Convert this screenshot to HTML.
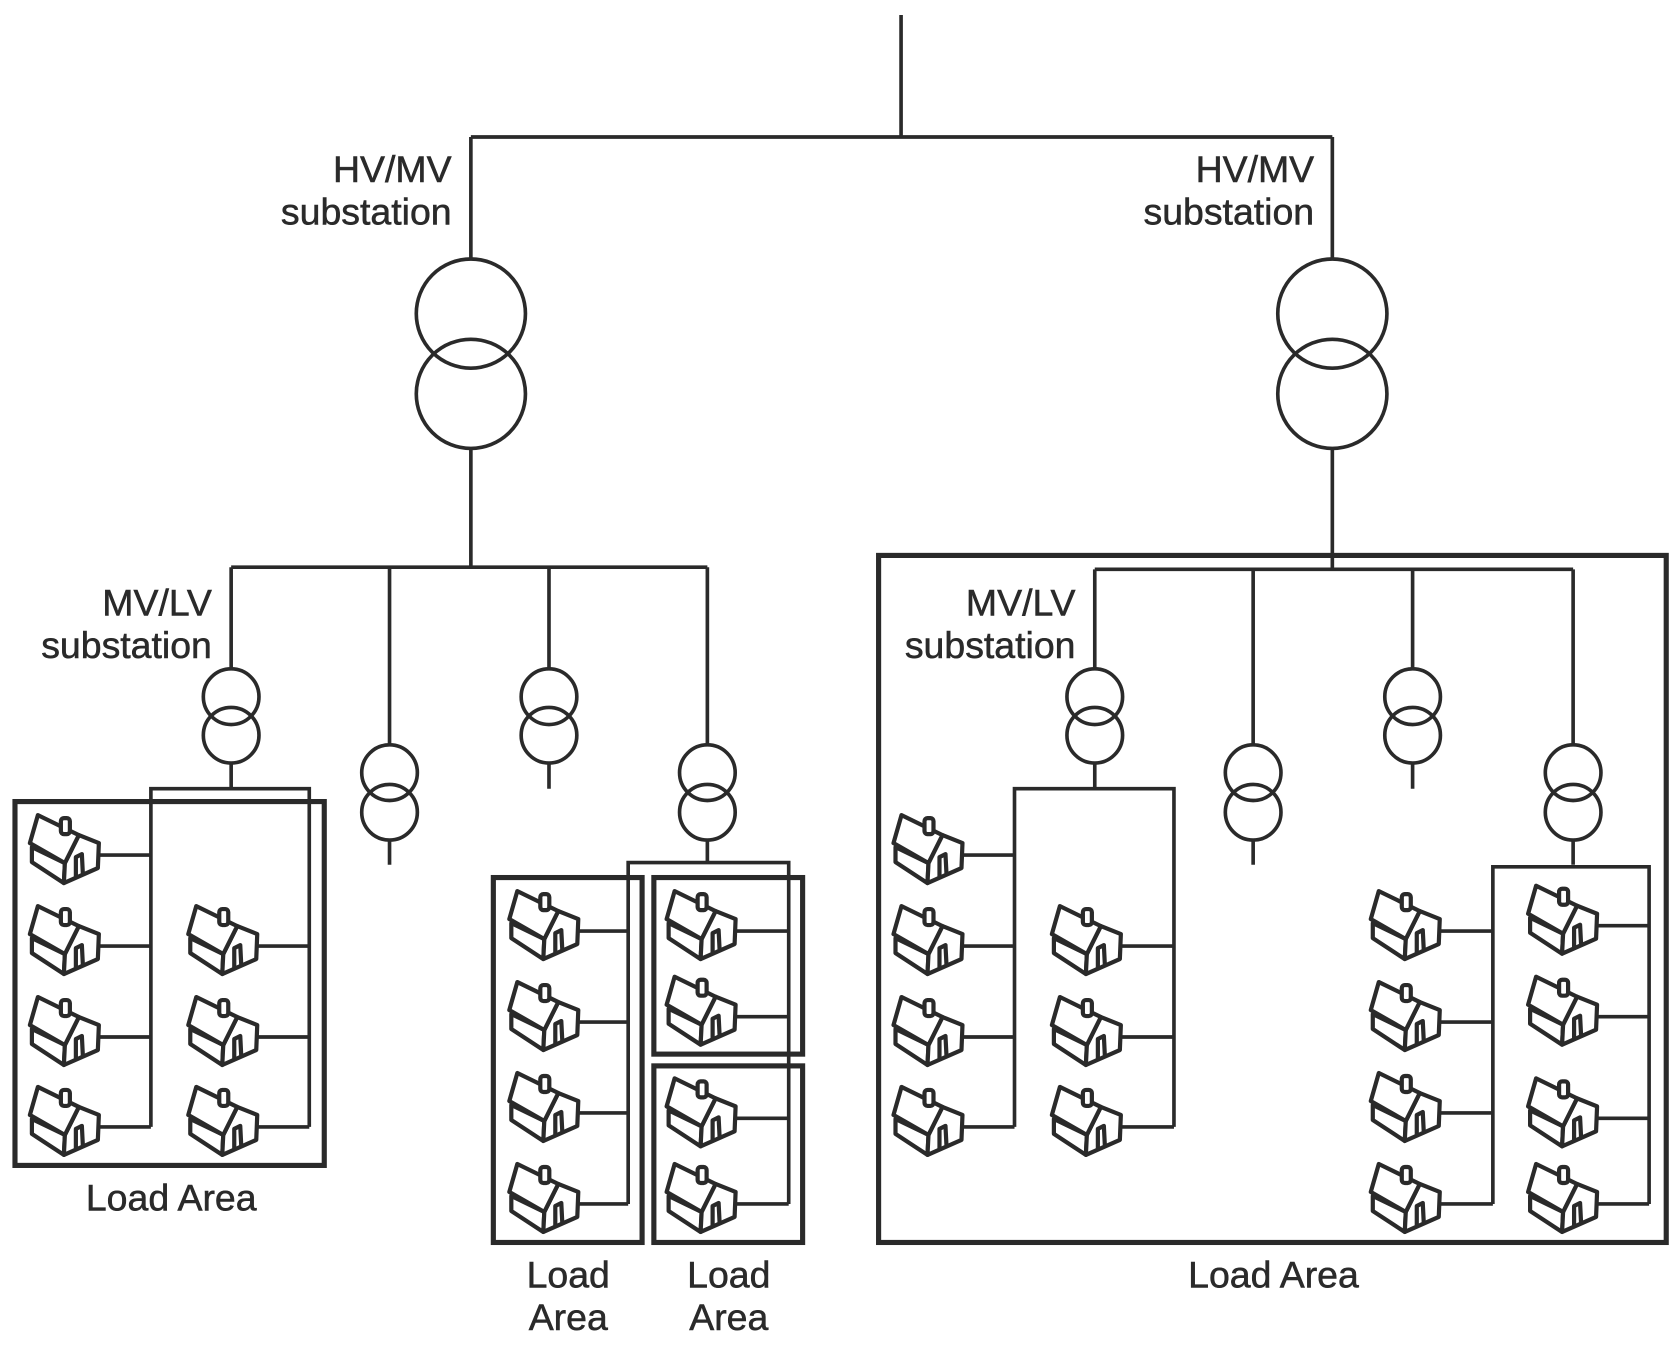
<!DOCTYPE html>
<html><head><meta charset="utf-8"><style>html,body{margin:0;padding:0;background:#fff}svg{display:block}</style></head>
<body>
<svg width="1678" height="1351" viewBox="0 0 1568 1262.4" xmlns="http://www.w3.org/2000/svg">
<defs>
<g id="h" transform="scale(0.934)" fill="#fff" stroke="#2a2a2a" stroke-width="4.2" stroke-linejoin="round">
<path d="M3,37 L36,53 L35,73 L3,52 Z"/>
<path d="M36,53 L50,25 L70,33 L69,58 L35,73 Z"/>
<path d="M1,33 L9,5 L50,25 L36,53 Z"/>
<rect x="32" y="8" width="9" height="16" rx="3"/>
<path d="M47,68 L47,47 L53,44 L54,64" fill="none"/>
</g>
</defs>
<g fill="none" stroke="#2a2a2a" stroke-width="3.4">
<path d="M842,14 V128 M440,128 H1245 M440,128 V242 M1245,128 V242"/>
<circle cx="440" cy="293" r="51"/><circle cx="440" cy="368" r="51"/>
<circle cx="1245" cy="293" r="51"/><circle cx="1245" cy="368" r="51"/>
<path d="M440,419 V530 M216,530 H661 M216,530 V625 M364,530 V696 M513,530 V625 M661,530 V696"/>
<path d="M1245,419 V532 M1023,532 H1470 M1023,532 V625 M1171,532 V696 M1320,532 V625 M1470,532 V696"/>
<circle cx="216" cy="651" r="26"/><circle cx="216" cy="687" r="26"/>
<circle cx="364" cy="722" r="26"/><circle cx="364" cy="759" r="26"/>
<circle cx="513" cy="651" r="26"/><circle cx="513" cy="687" r="26"/>
<circle cx="661" cy="722" r="26"/><circle cx="661" cy="759" r="26"/>
<circle cx="1023" cy="651" r="26"/><circle cx="1023" cy="687" r="26"/>
<circle cx="1171" cy="722" r="26"/><circle cx="1171" cy="759" r="26"/>
<circle cx="1320" cy="651" r="26"/><circle cx="1320" cy="687" r="26"/>
<circle cx="1470" cy="722" r="26"/><circle cx="1470" cy="759" r="26"/>
<path d="M216,713 V737 M364,785 V808 M513,713 V737 M661,785 V806 M1023,713 V737 M1171,785 V808 M1320,713 V737 M1470,785 V808"/>
<path d="M141,1053 V737 H289 V1053"/>
<path d="M92,799 H141 M92,884 H141 M92,969 H141 M92,1053 H141 M240,884 H289 M240,969 H289 M240,1053 H289"/>
<path d="M587,1125 V806 H737 V1125"/>
<path d="M540,870 H587 M540,955 H587 M540,1040 H587 M540,1125 H587 M687,870 H737 M687,950 H737 M687,1045 H737 M687,1125 H737"/>
<path d="M948,1053 V737 H1097 V1053"/>
<path d="M899,799 H948 M899,884 H948 M899,969 H948 M899,1053 H948 M1047,884 H1097 M1047,969 H1097 M1047,1053 H1097"/>
<path d="M1395,1125 V810 H1541 V1125"/>
<path d="M1345,870 H1395 M1345,955 H1395 M1345,1040 H1395 M1345,1125 H1395 M1492,865 H1541 M1492,950 H1541 M1492,1045 H1541 M1492,1125 H1541"/>
</g>
<g fill="none" stroke="#2a2a2a" stroke-width="4.8">
<rect x="14" y="749" width="289" height="340"/>
<rect x="461" y="820" width="139" height="341"/>
<rect x="611" y="820" width="139" height="165"/>
<rect x="611" y="996" width="139" height="165"/>
<rect x="821" y="519" width="736" height="642"/>
</g>
<use href="#h" x="27" y="757"/><use href="#h" x="27" y="842"/><use href="#h" x="27" y="927"/><use href="#h" x="27" y="1011"/>
<use href="#h" x="175" y="842"/><use href="#h" x="175" y="927"/><use href="#h" x="175" y="1011"/>
<use href="#h" x="475" y="828"/><use href="#h" x="475" y="913"/><use href="#h" x="475" y="998"/><use href="#h" x="475" y="1083"/>
<use href="#h" x="622" y="828"/><use href="#h" x="622" y="908"/><use href="#h" x="622" y="1003"/><use href="#h" x="622" y="1083"/>
<use href="#h" x="834" y="757"/><use href="#h" x="834" y="842"/><use href="#h" x="834" y="927"/><use href="#h" x="834" y="1011"/>
<use href="#h" x="982" y="842"/><use href="#h" x="982" y="927"/><use href="#h" x="982" y="1011"/>
<use href="#h" x="1280" y="828"/><use href="#h" x="1280" y="913"/><use href="#h" x="1280" y="998"/><use href="#h" x="1280" y="1083"/>
<use href="#h" x="1427" y="823"/><use href="#h" x="1427" y="908"/><use href="#h" x="1427" y="1003"/><use href="#h" x="1427" y="1083"/>
<g font-family="Liberation Sans, sans-serif" font-size="35" fill="#2a2a2a" stroke="#2a2a2a" stroke-width="0.5">
<g text-anchor="end">
<text x="422" y="170">HV/MV</text><text x="422" y="210">substation</text>
<text x="1228" y="170">HV/MV</text><text x="1228" y="210">substation</text>
<text x="198" y="575">MV/LV</text><text x="198" y="615">substation</text>
<text x="1005" y="575">MV/LV</text><text x="1005" y="615">substation</text>
</g>
<g text-anchor="middle">
<text x="160" y="1131">Load Area</text>
<text x="531" y="1203">Load</text><text x="531" y="1243">Area</text>
<text x="681" y="1203">Load</text><text x="681" y="1243">Area</text>
<text x="1190" y="1203">Load Area</text>
</g>
</g>
</svg>
</body></html>
